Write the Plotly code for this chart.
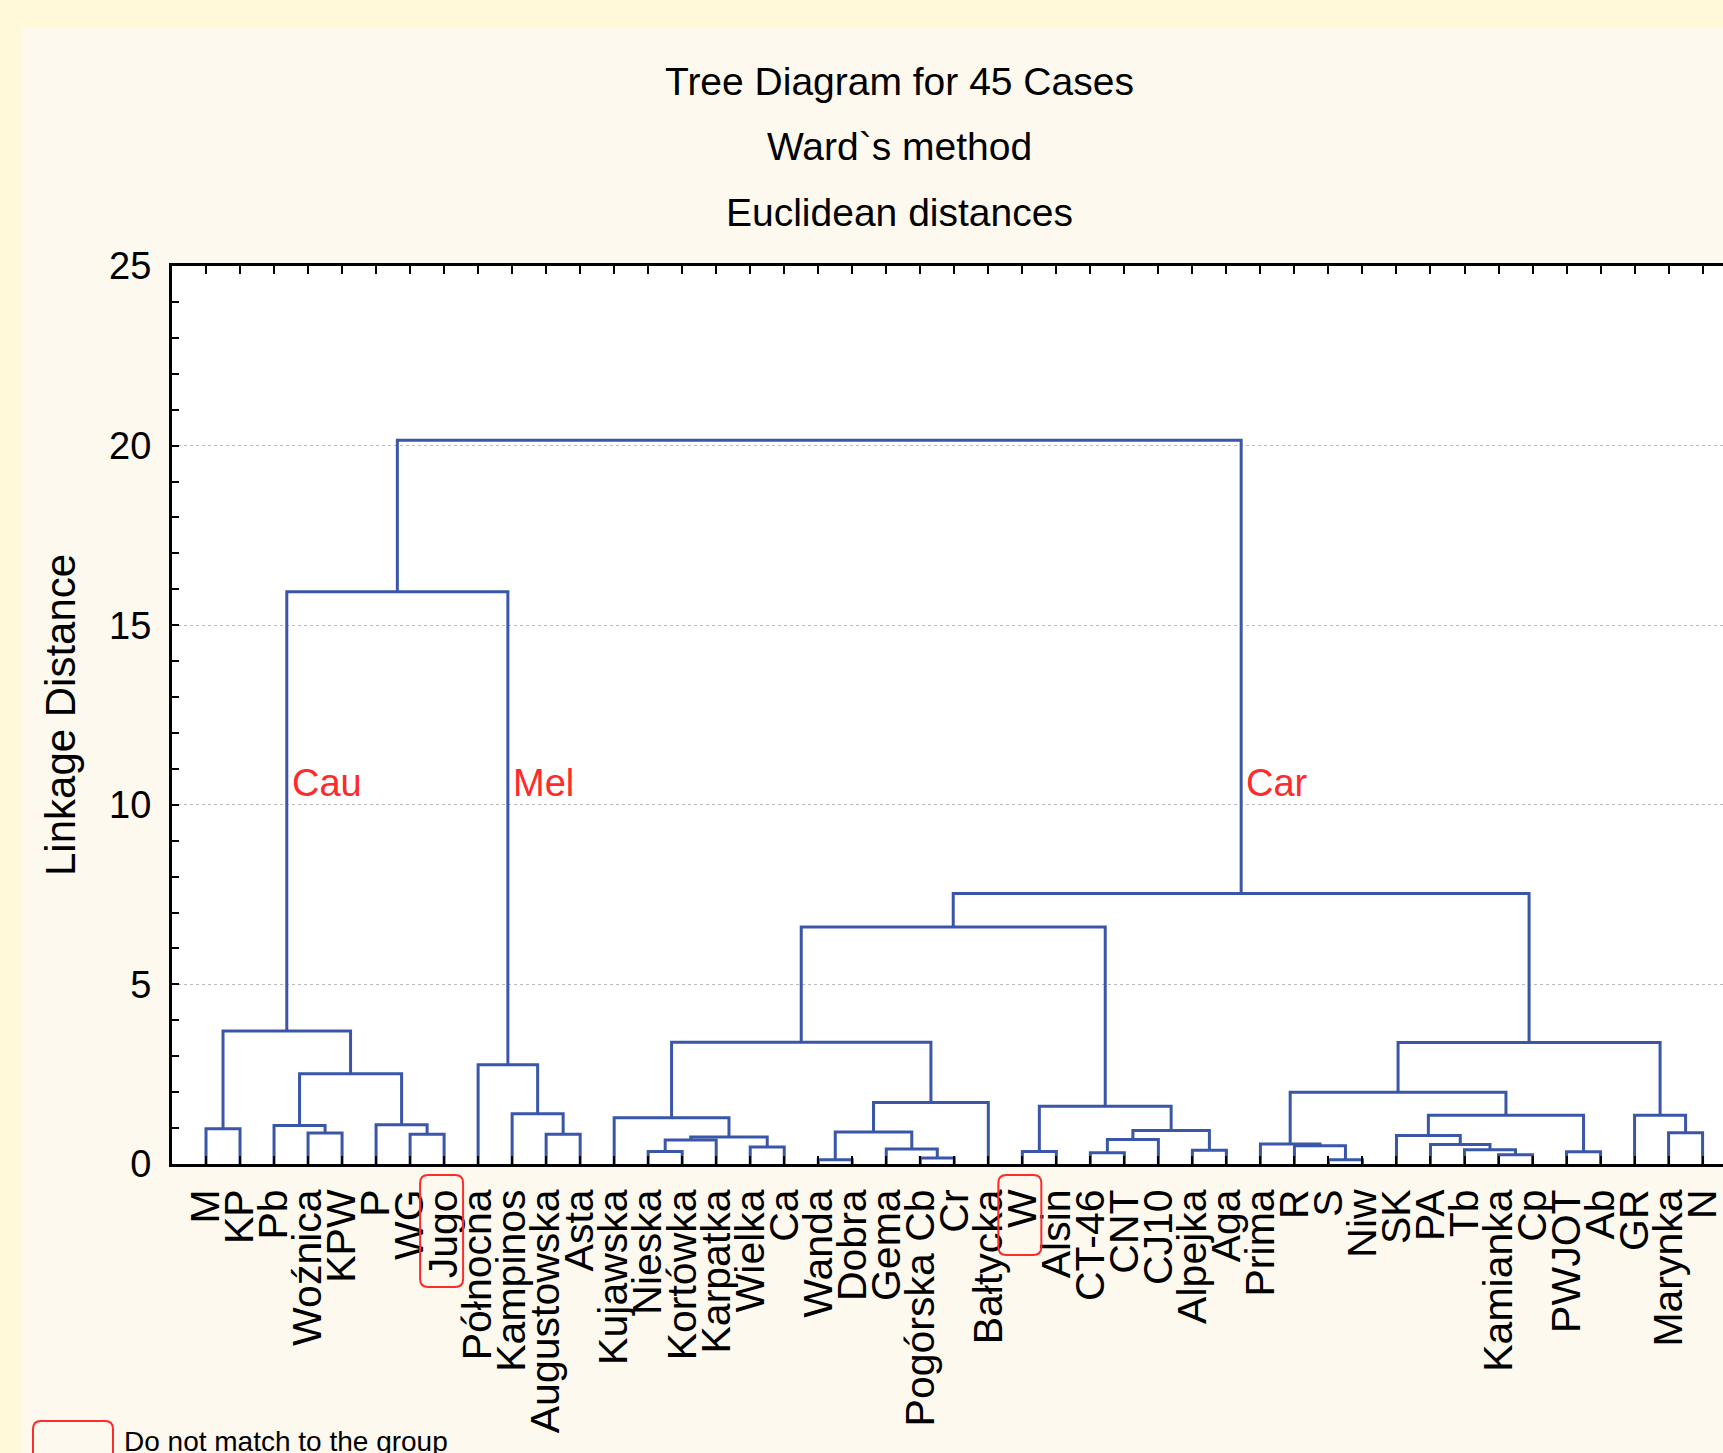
import plotly.graph_objects as go

# ---------------- data ----------------
leaf_labels = ["M", "KP", "Pb", "Woźnica", "KPW", "P", "WG", "Jugo", "Północna",
               "Kampinos", "Augustowska", "Asta", "Kujawska", "Nieska", "Kortówka",
               "Karpatka", "Wielka", "Ca", "Wanda", "Dobra", "Gema", "Pogórska Cb",
               "Cr", "Bałtycka", "W", "Alsin", "CT-46", "CNT", "CJ10", "Alpejka", "Aga",
               "Prima", "R", "S", "Niw", "SK", "PA", "Tb", "Kamianka", "Cp", "PWJOT",
               "Ab", "GR", "Marynka", "N"]

# merge k creates cluster "c<k>"
merge_left = ["M", "Woźnica", "Pb", "WG", "P", "c2", "c0",
              "Augustowska", "Kampinos", "Północna",
              "Nieska", "c10", "Wielka", "c11", "Kujawska", "Wanda", "Pogórska Cb", "Gema",
              "c15", "c18", "c14", "W", "CT-46", "c22", "Alpejka", "c23", "c21", "c20",
              "S", "R", "Prima", "Kamianka", "Tb", "PA", "SK", "PWJOT", "c34", "c30",
              "Marynka", "GR", "c37", "c27", "c6", "c42"]
merge_right = ["KP", "KPW", "c1", "Jugo", "c3", "c4", "c5",
               "Asta", "c7", "c8",
               "Kortówka", "Karpatka", "Ca", "c12", "c13", "Dobra", "Cr", "c16",
               "c17", "Bałtycka", "c19", "Alsin", "CNT", "CJ10", "Aga", "c24", "c25", "c26",
               "Niw", "c28", "c29", "Cp", "c31", "c32", "c33", "Ab", "c35", "c36",
               "N", "c38", "c39", "c40", "c9", "c41"]
merge_height = [0.98, 0.86, 1.07, 0.83, 1.09, 2.51, 3.70,
                0.83, 1.40, 2.76,
                0.35, 0.67, 0.47, 0.75, 1.29, 0.12, 0.17, 0.42,
                0.89, 1.71, 3.39, 0.35, 0.31, 0.68, 0.38, 0.93, 1.61, 6.60,
                0.12, 0.51, 0.56, 0.26, 0.40, 0.54, 0.79, 0.34, 1.36, 2.00,
                0.87, 1.36, 3.38, 7.53, 15.93, 20.15]

group_labels = ["Cau", "Mel", "Car"]
group_nodes = ["c6", "c9", "c41"]
highlighted = ["Jugo", "W"]
legend_text = "Do not match to the group"
title_lines = ["Tree Diagram for 45 Cases", "Ward`s method", "Euclidean distances"]
y_title = "Linkage Distance"

# ---------------- geometry / style ----------------
W, H = 1723, 1453
ML, MR, MT, MB = 172, 0, 266, 289
PW, PH = W - ML - MR, H - MT - MB
XR = [0, 45.6]
YR = [0, 25]
FONT = "Liberation Sans, Arial, sans-serif"
BLUE = "#3a56a9"
RED = "#ff2a2a"
OUTER = "#fff8d9"
INNER = "#fdf9ee"


def px_x(v):
    return ML + (v - XR[0]) / (XR[1] - XR[0]) * PW


def pap_x(px):
    return (px - ML) / PW


def pap_y(py):
    return (MT + PH - py) / PH


def rrect(x0, y0, x1, y1, r):
    X, Y = pap_x, pap_y
    return (f"M {X(x0 + r)},{Y(y0)} L {X(x1 - r)},{Y(y0)} Q {X(x1)},{Y(y0)} {X(x1)},{Y(y0 + r)} "
            f"L {X(x1)},{Y(y1 - r)} Q {X(x1)},{Y(y1)} {X(x1 - r)},{Y(y1)} "
            f"L {X(x0 + r)},{Y(y1)} Q {X(x0)},{Y(y1)} {X(x0)},{Y(y1 - r)} "
            f"L {X(x0)},{Y(y0 + r)} Q {X(x0)},{Y(y0)} {X(x0 + r)},{Y(y0)} Z")


# ---------------- build dendrogram ----------------
pos = {n: i + 1 for i, n in enumerate(leaf_labels)}
hgt = {n: 0.0 for n in leaf_labels}
xs, ys = [], []
for k, (a, b, h) in enumerate(zip(merge_left, merge_right, merge_height)):
    xa, ha, xb, hb = pos[a], hgt[a], pos[b], hgt[b]
    xs += [xa, xa, xb, xb, None]
    ys += [ha, h, h, hb, None]
    pos[f"c{k}"] = (xa + xb) / 2
    hgt[f"c{k}"] = h

fig = go.Figure()
fig.add_trace(go.Scatter(x=xs, y=ys, mode="lines",
                         line=dict(color=BLUE, width=3),
                         hoverinfo="skip", showlegend=False))

shapes = [
    dict(type="rect", xref="paper", yref="paper", layer="below",
         x0=pap_x(21), x1=pap_x(W + 5), y0=pap_y(H + 5), y1=pap_y(27),
         fillcolor=INNER, line=dict(width=0)),
    dict(type="rect", xref="paper", yref="paper", layer="below",
         x0=0, x1=1, y0=0, y1=1, fillcolor="white", line=dict(width=0)),
]
box_len = {"Jugo": 112, "W": 80}
for name in highlighted:
    cx = px_x(pos[name])
    shapes.append(dict(type="path", xref="paper", yref="paper",
                       path=rrect(cx - 24, 1175, cx + 19, 1175 + box_len[name], 8),
                       line=dict(color=RED, width=2)))
shapes.append(dict(type="path", xref="paper", yref="paper",
                   path=rrect(33, 1421, 113, 1475, 8), line=dict(color=RED, width=2)))

annotations = []
for i, t in enumerate(title_lines):
    annotations.append(dict(text=t, xref="paper", yref="paper", x=pap_x(899),
                            y=pap_y(81 + 66 * i), xanchor="center", yanchor="middle",
                            showarrow=False, font=dict(family=FONT, size=39, color="black")))
annotations.append(dict(text=y_title, xref="paper", yref="paper", x=pap_x(60), y=0.5,
                        textangle=-90, xanchor="center", yanchor="middle", showarrow=False,
                        font=dict(family=FONT, size=42, color="black")))
for lab, node in zip(group_labels, group_nodes):
    annotations.append(dict(text=lab, x=pos[node], y=10.6, xref="x", yref="y",
                            xanchor="left", yanchor="middle", xshift=3, showarrow=False,
                            font=dict(family=FONT, size=38, color=RED)))
annotations.append(dict(text=legend_text, xref="paper", yref="paper", x=pap_x(122),
                        y=pap_y(1441), xanchor="left", yanchor="middle", showarrow=False,
                        font=dict(family=FONT, size=28, color="black")))

fig.update_layout(
    width=W, height=H,
    margin=dict(l=ML, r=MR, t=MT, b=MB, pad=0),
    paper_bgcolor=OUTER, plot_bgcolor="white",
    showlegend=False,
    shapes=shapes, annotations=annotations,
    font=dict(family=FONT, color="black"),
)
fig.update_xaxes(range=XR, tickvals=list(range(1, len(leaf_labels) + 1)), ticktext=leaf_labels,
                 tickangle=-90, ticks="inside", ticklen=8, tickwidth=2, tickcolor="black",
                 showline=True, linewidth=3, linecolor="black", mirror="ticks",
                 showgrid=False, zeroline=False, automargin=False, ticklabelstandoff=6,
                 ticklabeloverflow="allow",
                 tickfont=dict(family=FONT, size=41, color="black"))
fig.update_yaxes(range=YR, tickvals=[0, 5, 10, 15, 20, 25], ticks="inside", ticklen=7,
                 tickwidth=2, tickcolor="black", showline=True, linewidth=3, linecolor="black",
                 mirror=False, showgrid=True, gridcolor="#b9b9b9", griddash="dot", gridwidth=1,
                 minor=dict(dtick=1, ticks="inside", ticklen=7, tickwidth=2, tickcolor="black",
                            showgrid=False),
                 zeroline=False, automargin=False, ticklabelstandoff=10,
                 ticklabeloverflow="allow",
                 tickfont=dict(family=FONT, size=38, color="black"))

fig.write_html("out.html", config={"displayModeBar": False},
               post_script="document.body.style.margin='0';"
                           "document.body.style.background='" + OUTER + "';")
